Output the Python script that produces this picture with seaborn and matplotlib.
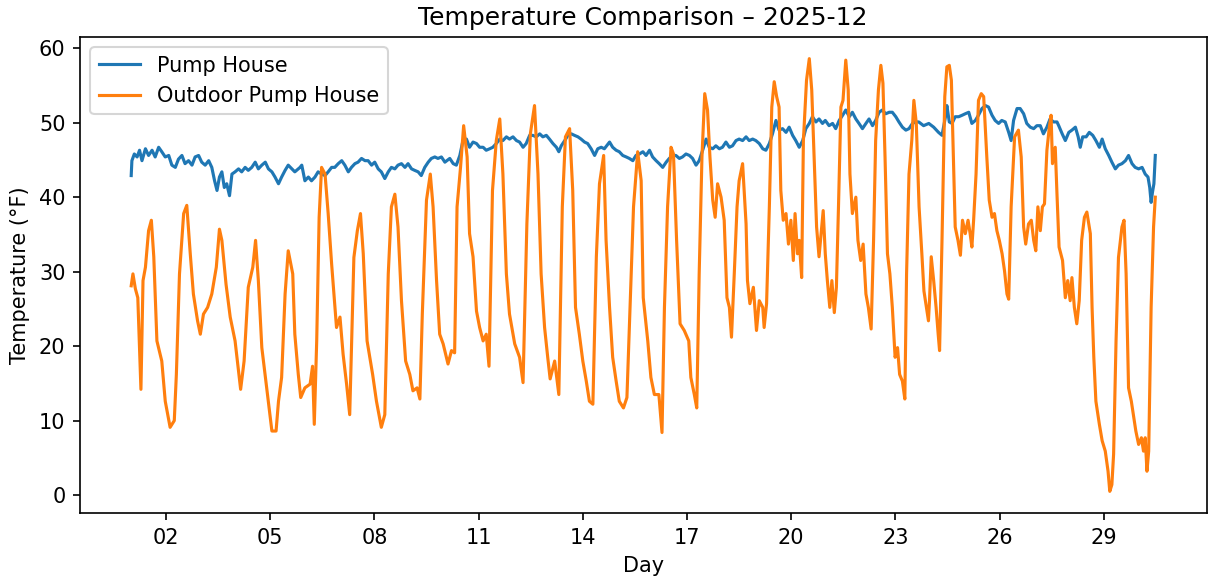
import numpy as np
import pandas as pd
import matplotlib
matplotlib.use("Agg")
import matplotlib.pyplot as plt
import matplotlib.dates as mdates
import seaborn as sns

# ---- data (days since 2025-12-01 00:00, temperatures in °F) ----
outdoor_day = [
    0.00, 0.05, 0.12, 0.19, 0.28, 0.34, 0.41, 0.50, 0.58, 0.65, 0.74, 0.88, 0.98, 1.12, 1.24, 1.30,
    1.39, 1.51, 1.60, 1.70, 1.79, 1.91, 1.99, 2.08, 2.20, 2.32, 2.45, 2.54, 2.61, 2.73, 2.85, 2.99,
    3.15, 3.25, 3.37, 3.50, 3.58, 3.66, 3.76, 3.90, 4.05, 4.17, 4.24, 4.33, 4.43, 4.52, 4.65, 4.71,
    4.81, 4.88, 5.00, 5.15, 5.22, 5.27, 5.34, 5.41, 5.48, 5.58, 5.67, 5.77, 5.91, 6.01, 6.10, 6.20,
    6.29, 6.41, 6.51, 6.60, 6.68, 6.79, 6.95, 7.06, 7.20, 7.30, 7.40, 7.49, 7.59, 7.68, 7.78, 7.90,
    8.02, 8.11, 8.23, 8.31, 8.38, 8.50, 8.61, 8.69, 8.79, 8.88, 8.98, 9.12, 9.22, 9.31, 9.38, 9.48,
    9.57, 9.67, 9.74, 9.84, 9.94, 10.03, 10.13, 10.22, 10.30, 10.40, 10.51, 10.61, 10.70, 10.80,
    10.89, 11.04, 11.18, 11.28, 11.39, 11.49, 11.61, 11.71, 11.80, 11.90, 11.99, 12.06, 12.19,
    12.31, 12.41, 12.50, 12.62, 12.71, 12.79, 12.90, 13.00, 13.10, 13.19, 13.29, 13.39, 13.48,
    13.60, 13.67, 13.77, 13.86, 13.96, 14.05, 14.17, 14.27, 14.36, 14.46, 14.58, 14.68, 14.74,
    14.87, 14.96, 15.06, 15.19, 15.28, 15.35, 15.44, 15.54, 15.61, 15.70, 15.80, 15.92, 16.05,
    16.11, 16.21, 16.28, 16.35, 16.43, 16.51, 16.59, 16.66, 16.74, 16.81, 16.88, 16.98, 17.07,
    17.15, 17.22, 17.28, 17.36, 17.44, 17.50, 17.60, 17.70, 17.74, 17.81, 17.91, 18.00, 18.08,
    18.18, 18.22, 18.29, 18.37, 18.44, 18.51, 18.58, 18.65, 18.70, 18.77, 18.85, 18.92, 18.99,
    19.06, 19.11, 19.18, 19.23, 19.30, 19.35, 19.44, 19.52, 19.59, 19.66, 19.73, 19.80, 19.86,
    19.92, 19.98, 20.04, 20.11, 20.17, 20.24, 20.30, 20.36, 20.43, 20.49, 20.57, 20.64, 20.69,
    20.76, 20.86, 20.92, 21.00, 21.07, 21.15, 21.22, 21.30, 21.37, 21.43, 21.51, 21.58, 21.64,
    21.70, 21.77, 21.84, 21.91, 21.99, 22.06, 22.12, 22.20, 22.27, 22.32, 22.39, 22.47, 22.53,
    22.60, 22.68, 22.76, 22.82, 22.89, 22.95, 22.98, 23.03, 23.10, 23.17, 23.23, 23.27, 23.34,
    23.42, 23.48, 23.55, 23.61, 23.68, 23.72, 23.80, 23.87, 23.93, 24.01, 24.09, 24.15, 24.20,
    24.25, 24.32, 24.39, 24.47, 24.54, 24.63, 24.70, 24.78, 24.85, 24.92, 24.99, 25.07, 25.14,
    25.21, 25.26, 25.33, 25.43, 25.54, 25.62, 25.69, 25.75, 25.83, 25.91, 25.98, 26.04, 26.10,
    26.17, 26.23, 26.29, 26.36, 26.43, 26.48, 26.52, 26.60, 26.65, 26.71, 26.81, 26.89, 26.96,
    27.03, 27.08, 27.15, 27.22, 27.29, 27.36, 27.44, 27.51, 27.61, 27.66, 27.71, 27.77, 27.87,
    27.95, 28.04, 28.12, 28.17, 28.23, 28.28, 28.35, 28.42, 28.52, 28.58, 28.64, 28.71, 28.79,
    28.86, 28.92, 29.00, 29.08, 29.14, 29.19, 29.24, 29.29, 29.36, 29.43, 29.48,
]
outdoor_temp = [
    28.1, 29.7, 27.7, 26.5, 14.2, 28.8, 30.6, 35.5, 36.9, 32.0, 20.7, 18.0, 12.6, 9.1, 10.0, 16.2,
    29.7, 37.8, 38.9, 32.4, 27.0, 23.4, 21.6, 24.3, 25.2, 27.0, 30.6, 35.7, 34.2, 28.3, 23.9, 20.7,
    14.2, 18.0, 27.9, 30.6, 34.2, 28.8, 19.8, 14.4, 8.6, 8.6, 12.6, 15.8, 27.0, 32.8, 29.7, 21.6,
    16.2, 13.1, 14.4, 14.9, 17.3, 9.5, 20.7, 37.3, 44.0, 43.1, 37.8, 31.0, 22.5, 23.9, 18.9, 14.9,
    10.8, 31.9, 35.5, 37.8, 32.4, 20.7, 16.2, 12.6, 9.1, 10.8, 29.7, 38.7, 40.4, 36.0, 26.1, 18.0,
    16.2, 14.0, 14.4, 12.9, 24.3, 39.6, 43.1, 38.7, 28.8, 21.6, 20.3, 17.6, 19.4, 19.1, 38.7, 44.0,
    49.6, 45.4, 35.1, 32.0, 24.7, 22.5, 20.7, 21.6, 17.3, 40.9, 47.6, 50.5, 43.1, 29.7,
    24.3, 20.3, 18.5, 15.1, 36.4, 48.5, 52.3, 43.1, 29.7, 22.5, 18.5, 15.6, 18.0,
    13.5, 38.7, 48.1, 49.2, 40.9, 25.2, 21.6, 18.0, 15.3, 12.6, 12.2, 32.0, 41.8,
    45.6, 34.2, 25.2, 18.5, 15.3, 12.6, 11.7, 13.1, 25.2, 38.7, 46.1, 42.2, 26.5,
    20.7, 15.8, 13.5, 13.5, 8.4, 25.2, 38.7, 46.7, 45.8, 34.2, 23.0, 22.1, 20.7,
    15.8, 13.5, 11.7, 29.7, 45.4, 53.9, 51.7, 45.4, 39.6, 37.3, 41.8, 40.0, 36.9,
    26.5, 25.2, 21.2, 29.7, 38.7, 42.2, 44.5, 36.4, 28.8, 25.7, 27.9, 22.1, 26.1,
    25.2, 22.5, 25.7, 38.7, 52.1, 55.5, 53.5, 52.1, 40.9, 36.9, 37.8, 33.7, 36.9,
    31.5, 37.8, 32.4, 34.2, 29.2, 47.6, 55.7, 58.6, 54.4, 45.4, 36.0, 32.0, 35.1,
    38.2, 32.4, 28.8, 25.2, 28.8, 24.5, 27.9, 38.7, 52.1, 53.0, 58.4, 54.4, 43.1,
    37.8, 40.0, 34.2, 31.5, 33.7, 27.0, 25.2, 22.3, 34.2, 47.6, 54.4, 57.7, 55.3,
    45.4, 32.4, 29.7, 25.2, 18.5, 19.8, 16.2, 15.3, 12.9, 29.7, 43.1, 47.6, 53.0,
    49.9, 38.7, 32.4, 27.4, 25.2, 23.4, 26.1, 32.0, 28.8, 25.2, 21.6, 19.4, 34.2,
    53.5, 57.5, 57.7, 55.7, 43.1, 36.0, 34.2, 32.2, 36.9, 35.1, 36.9, 35.1, 33.3,
    36.9, 43.1, 53.0, 53.9, 53.5, 45.4, 39.6, 37.3, 37.8, 35.5, 34.2, 32.4, 30.1,
    27.0, 26.3, 38.7, 48.1, 49.0, 45.4, 36.0, 33.7, 36.4, 36.9, 34.2, 32.8, 38.7,
    35.5, 38.7, 39.1, 46.3, 49.4, 51.0, 44.5, 46.7, 40.4, 33.3, 31.5, 26.5, 28.8,
    26.1, 29.2, 25.2, 23.0, 26.1, 34.2, 37.3, 38.0, 35.1, 25.2, 18.5, 12.6, 9.5,
    7.3, 5.9, 3.2, 0.5, 1.4, 5.5, 20.7, 31.9, 36.0, 36.9, 29.7, 14.4, 12.6,
    10.4, 8.6, 6.8, 7.7, 5.9, 7.7, 3.2, 5.9, 25.2, 36.0, 40.0,
]

pump_day = [
    0.00, 0.02, 0.09, 0.17, 0.24, 0.31, 0.41, 0.50, 0.60, 0.69, 0.79, 0.88, 0.98, 1.08, 1.17, 1.27,
    1.36, 1.46, 1.55, 1.65, 1.75, 1.84, 1.94, 2.03, 2.13, 2.23, 2.32, 2.40, 2.47, 2.54, 2.61, 2.68,
    2.75, 2.83, 2.90, 2.99, 3.09, 3.18, 3.28, 3.37, 3.47, 3.57, 3.66, 3.76, 3.86, 3.95, 4.05, 4.14,
    4.24, 4.33, 4.43, 4.52, 4.71, 4.86, 4.91, 5.00, 5.10, 5.19, 5.29, 5.38, 5.48, 5.58, 5.67, 5.77,
    5.86, 5.96, 6.06, 6.15, 6.25, 6.34, 6.44, 6.53, 6.63, 6.73, 6.82, 6.92, 7.01, 7.11, 7.20, 7.30,
    7.40, 7.49, 7.59, 7.68, 7.78, 7.88, 7.97, 8.07, 8.16, 8.26, 8.35, 8.45, 8.55, 8.64, 8.74, 8.83,
    8.93, 9.03, 9.17, 9.27, 9.36, 9.46, 9.55, 9.65, 9.74, 9.84, 9.94, 10.03, 10.13, 10.22, 10.32,
    10.41, 10.51, 10.61, 10.70, 10.80, 10.89, 10.99, 11.09, 11.18, 11.28, 11.37, 11.47, 11.56,
    11.66, 11.76, 11.85, 11.95, 12.04, 12.14, 12.24, 12.31, 12.38, 12.48, 12.57, 12.67, 12.76,
    12.86, 12.95, 13.05, 13.14, 13.24, 13.34, 13.43, 13.53, 13.62, 13.77, 13.86, 13.96, 14.05,
    14.15, 14.25, 14.34, 14.44, 14.53, 14.63, 14.73, 14.82, 14.92, 15.01, 15.11, 15.20, 15.30,
    15.40, 15.49, 15.59, 15.68, 15.78, 15.87, 15.97, 16.07, 16.16, 16.26, 16.35, 16.45, 16.55,
    16.64, 16.74, 16.83, 16.93, 17.02, 17.12, 17.22, 17.31, 17.41, 17.50, 17.60, 17.70, 17.79,
    17.89, 17.98, 18.08, 18.18, 18.27, 18.37, 18.46, 18.56, 18.65, 18.75, 18.85, 18.94, 19.04,
    19.13, 19.23, 19.33, 19.42, 19.52, 19.61, 19.71, 19.80, 19.90, 19.98, 20.09, 20.19, 20.28,
    20.38, 20.48, 20.57, 20.67, 20.76, 20.86, 20.95, 21.05, 21.15, 21.24, 21.34, 21.43, 21.53,
    21.62, 21.72, 21.82, 21.91, 22.01, 22.10, 22.20, 22.30, 22.39, 22.49, 22.58, 22.67, 22.81,
    22.96, 23.10, 23.24, 23.34, 23.44, 23.48, 23.55, 23.63, 23.72, 23.82, 23.92, 24.01, 24.11,
    24.20, 24.30, 24.39, 24.49, 24.59, 24.68, 24.78, 24.87, 24.97, 25.06, 25.16, 25.26, 25.33,
    25.40, 25.50, 25.59, 25.69, 25.78, 25.88, 25.98, 26.07, 26.17, 26.26, 26.36, 26.45, 26.55,
    26.65, 26.70, 26.80, 26.89, 26.99, 27.08, 27.18, 27.26, 27.32, 27.39, 27.49, 27.58, 27.68,
    27.77, 27.87, 27.95, 28.04, 28.14, 28.23, 28.33, 28.42, 28.52, 28.62, 28.71, 28.81, 28.90,
    29.00, 29.10, 29.19, 29.27, 29.32, 29.36, 29.40, 29.44, 29.48,
]
pump_temp = [
    42.9, 44.9, 45.8, 45.4, 46.3, 44.9, 46.5, 45.6, 46.3, 45.4, 46.7, 46.1, 45.4, 45.6, 44.3, 44.0,
    45.1, 45.6, 44.5, 44.9, 44.3, 45.4, 45.6, 44.7, 44.3, 44.9, 44.0, 42.2, 40.9, 42.7, 43.4, 41.3,
    41.8, 40.2, 43.1, 43.4, 43.8, 43.4, 44.0, 43.6, 44.0, 44.7, 43.8, 44.3, 44.7, 43.8, 43.4, 42.7,
    41.8, 42.7, 43.6, 44.3, 43.4, 44.0, 44.3, 42.2, 42.7, 42.2, 42.7, 43.4, 43.1, 42.9, 43.4, 44.0,
    44.0, 44.5, 44.9, 44.3, 43.4, 44.0, 44.5, 44.7, 45.2, 44.9, 44.9, 44.3, 44.7, 43.8, 43.4, 42.5,
    43.4, 44.0, 43.8, 44.3, 44.5, 44.0, 44.5, 43.8, 43.6, 43.4, 42.9, 44.0, 44.7, 45.2, 45.4, 45.2,
    45.4, 44.7, 45.2, 44.5, 44.3, 45.6, 47.6, 47.8, 46.7, 47.4, 47.2, 46.7, 46.7, 46.3, 46.5,
    46.7, 47.2, 47.8, 47.6, 48.1, 47.8, 48.1, 47.6, 47.4, 46.7, 47.2, 48.3, 48.3,
    48.1, 48.5, 48.1, 48.3, 47.8, 47.2, 46.7, 46.1, 46.9, 47.6, 48.3, 48.5, 48.3,
    48.1, 47.8, 47.4, 47.2, 46.5, 45.6, 46.5, 46.7, 46.5, 47.4, 46.7, 46.3, 46.1,
    45.6, 45.4, 45.2, 44.9, 45.6, 45.8, 46.1, 45.6, 46.3, 45.4, 44.9, 44.5, 44.0,
    44.7, 45.2, 45.6, 45.6, 45.2, 45.4, 45.8, 45.6, 45.2, 44.3, 44.9, 46.3, 47.8,
    46.7, 46.5, 46.9, 46.5, 46.7, 47.4, 46.7, 46.9, 47.6, 47.8, 47.6, 48.1, 47.6,
    47.8, 47.6, 47.2, 46.5, 46.3, 47.2, 48.5, 50.3, 49.0, 49.2, 48.7, 49.4, 48.3,
    47.6, 46.7, 47.6, 49.2, 49.9, 50.8, 50.1, 50.5, 49.9, 50.3, 49.6, 49.9, 49.2,
    50.3, 51.0, 51.7, 50.8, 51.4, 50.5, 49.9, 49.2, 49.9, 50.5, 49.6, 50.3, 51.4,
    51.7, 51.2, 51.4, 51.4, 50.8, 50.1, 49.4, 49.0, 49.2, 49.9, 50.1, 50.1, 49.6,
    49.9, 49.4, 48.7, 48.3, 50.8, 52.3, 50.1, 49.9, 50.8, 50.8, 51.0, 51.2, 51.4,
    49.9, 50.3, 51.0, 51.9, 52.3, 52.1, 51.0, 50.3, 49.9, 50.3, 50.1, 48.7, 47.6,
    50.3, 51.9, 51.9, 51.2, 49.9, 49.4, 49.2, 49.6, 49.6, 48.5, 49.4, 50.5, 50.1,
    50.1, 49.6, 48.5, 47.6, 48.7, 49.0, 49.4, 48.1, 46.7, 48.1, 48.1, 48.7, 48.3,
    47.6, 46.7, 47.8, 46.5, 45.6, 44.7, 43.8, 44.3, 44.5, 44.9, 45.6, 44.5, 44.0,
    43.8, 44.0, 43.1, 42.7, 41.3, 39.3, 40.7, 41.8, 45.6,
]

series_labels = ["Pump House", "Outdoor Pump House"]
series_colors = ["#1f77b4", "#ff7f0e"]

start = pd.Timestamp("2025-12-01 00:00")
pump_df = pd.DataFrame({
    "time": start + pd.to_timedelta(pump_day, unit="D"),
    "temp": pump_temp,
})
outdoor_df = pd.DataFrame({
    "time": start + pd.to_timedelta(outdoor_day, unit="D"),
    "temp": outdoor_temp,
})

fig = plt.figure(figsize=(1208 / 150, 583 / 150), dpi=150)
ax = fig.add_axes([80 / 1208, 70 / 583, (1206.5 - 80) / 1208, (513 - 37) / 583])

sns.lineplot(data=pump_df, x="time", y="temp", ax=ax, color=series_colors[0],
             label=series_labels[0], estimator=None, linewidth=1.5)
sns.lineplot(data=outdoor_df, x="time", y="temp", ax=ax, color=series_colors[1],
             label=series_labels[1], estimator=None, linewidth=1.5)

ax.xaxis.set_major_locator(mdates.DayLocator(bymonthday=list(range(2, 32, 3))))
ax.xaxis.set_major_formatter(mdates.DateFormatter("%d"))
ax.set_yticks([0, 10, 20, 30, 40, 50, 60])

ax.set_title("Temperature Comparison \u2013 2025-12", fontsize=12)
ax.set_xlabel("Day", fontsize=10)
ax.set_ylabel("Temperature (\u00b0F)", fontsize=10)
ax.tick_params(labelsize=10)
handles, labels = ax.get_legend_handles_labels()
ax.legend(handles, labels, loc="upper left", fontsize=10)

fig.savefig("out.png", dpi=150)
